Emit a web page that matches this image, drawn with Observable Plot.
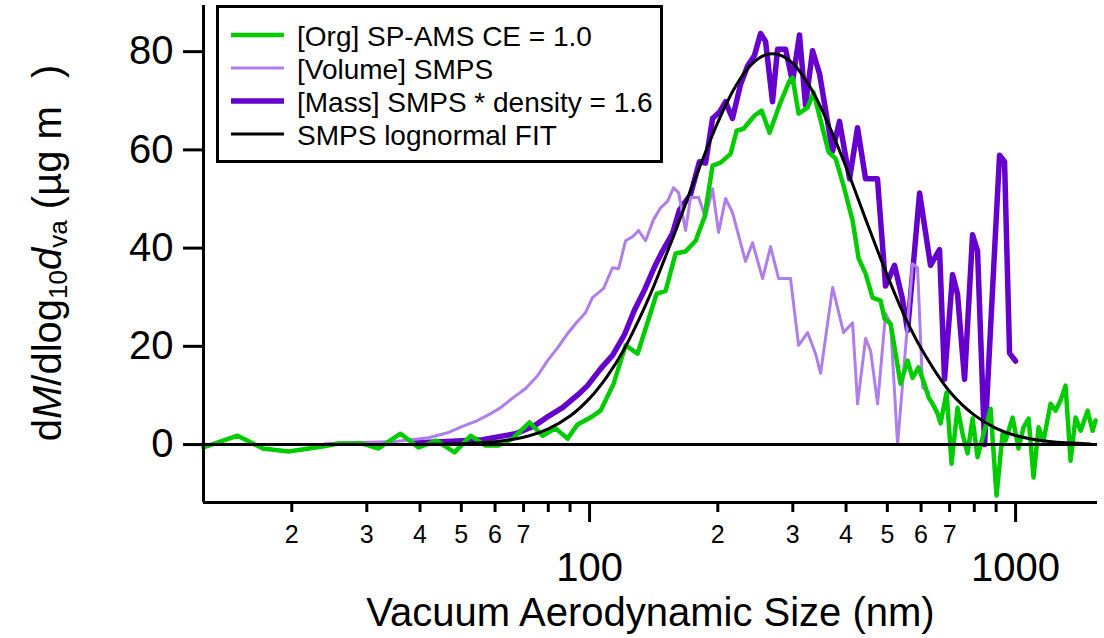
<!DOCTYPE html>
<html><head><meta charset="utf-8">
<script src="https://cdn.jsdelivr.net/npm/d3@7"></script>
<script src="https://cdn.jsdelivr.net/npm/@observablehq/plot@0.6"></script>
<style>body{margin:0;background:#fff;} #chart{width:1104px;height:638px;}</style>
</head><body><div id="chart"></div>
<script>
// ---- data ----
const orgSize = [12.41,14.92,17.08,19.65,23.61,25.75,29.32,31.96,36.00,39.68,43.73,48.20,52.56,57.00,61.15,65.97,72.31,77.57,83.22,88.78,93.72,100.5,106.1,113.9,121.5,129.6,143.7,150.8,159.2,168.0,177.4,186.2,194.4,203.0,214.3,221.4,229.9,244.0,253.4,264.6,279.3,294.8,299.6,309.5,324.9,335.6,348.6,363.9,378.0,394.7,414.4,428.1,444.6,461.6,482.0,492.6,508.9,537.0,557.8,573.1,592.0,614.8,624.9,638.6,656.0,666.7,688.7,707.5,730.7,750.8,771.3,792.5,814.2,841.0,859.4,873.5,902.3,932.0,947.2,984.0,1016,1044,1073,1102,1132,1163,1208,1241,1275,1310,1346,1383,1421,1476,1516,1541];
const orgMass = [-0.6,1.8,-0.8,-1.4,-0.4,0.2,0.2,-0.8,2.2,-0.6,0.8,-1.6,1.8,-0.2,-0.2,1.2,4.5,1.8,3.3,1.2,4.1,5.5,6.9,12.4,20.2,18.5,30.7,31.3,38.9,39.3,41.5,46.4,56.8,57.4,59.2,63.9,64.3,67.0,68.0,63.5,69.2,74.1,74.7,67.4,68.6,71.7,66.0,59.6,58.2,52.7,45.6,37.9,34.8,29.9,29.3,25.6,24.6,12.4,17.1,13.6,15.7,11.6,9.6,8.3,6.3,4.3,10.6,-3.9,7.5,2.2,-1.8,5.3,-2.6,2.2,4.9,7.3,-10.4,2.2,0.8,5.5,-0.8,3.5,5.3,-6.7,3.5,0.8,8.3,6.9,9.0,12.0,-3.3,5.5,2.8,6.9,2.8,4.9];

const volSize = [24.0,29.0,35.0,41.9,46.4,50.3,54.0,58.6,61.8,66.3,70.8,75.5,79.7,84.1,88.8,92.7,97.9,101.6,107.9,113.2,117.0,121.5,126.2,130.3,135.3,141.3,146.8,152.4,157.5,161.8,168.0,172.6,180.3,187.2,194.4,200.8,208.6,216.6,232.3,241.3,254.8,266.0,277.8,296.3,309.5,324.9,339.2,348.6,372.0,394.7,414.4,425.7,444.6,456.7,474.4,495.3,508.9,528.5,557.8,573.1,588.8,605.0,624.9];
const volValue = [0.2,0.4,0.6,1.4,2.4,3.7,4.7,6.3,7.5,9.6,11.4,14.0,17.1,19.7,22.6,24.6,26.9,29.9,31.8,36.0,35.8,41.5,42.3,43.6,41.5,45.8,48.2,49.5,52.3,51.3,43.6,50.3,50.3,46.2,52.1,43.2,50.1,47.2,37.3,41.1,33.8,40.3,33.8,33.8,20.2,22.8,18.5,14.5,32.0,22.8,24.8,8.3,21.6,19.1,8.3,26.7,24.6,0.0,24.6,36.8,36.0,11.6,10.6];

const massSize = [38.4,46.4,56.0,67.0,74.2,80.5,86.4,93.8,98.9,106.1,113.3,120.8,127.5,134.6,142.1,148.3,156.6,162.6,172.6,181.1,187.2,194.4,201.9,208.5,216.5,226.1,234.9,243.8,252.0,258.9,268.8,276.2,288.5,299.5,311.0,321.3,333.8,346.6,371.7,386.1,407.7,425.6,444.5,474.1,495.2,519.8,542.7,557.8,595.2,631.5,663.0,681.1,711.4,730.7,759.0,792.5,814.2,845.6,892.5,917.0,942.1,968.0,999.8];
const massValue = [0.3,0.6,1.0,2.2,3.8,5.9,7.5,10.1,12.0,15.4,18.2,22.4,27.4,31.5,36.2,39.4,43.0,47.8,50.9,57.6,57.3,66.4,67.7,69.8,66.4,73.3,77.1,79.2,83.7,82.1,69.8,80.5,80.5,73.9,83.4,69.1,80.2,75.5,59.7,65.8,54.1,64.5,54.1,54.1,32.3,36.5,29.6,23.2,51.2,36.5,39.7,13.3,34.6,30.6,13.3,42.7,39.4,0.0,39.4,58.9,57.6,18.6,17.0];

const fitSize = [20,30,40,50,60,70,80,90,100,110,120,130,140,150,160,170,180,200,220,240,260,280,300,330,360,400,450,500,550,600,700,800,900,1000,1200,1500];
const fitMass = [0,0,0.03,0.16,0.58,1.5,3.2,5.8,9.4,13.9,19.1,25.1,31.3,37.8,44.0,50.2,55.8,65.6,72.9,77.4,79.4,79.3,77.6,72.7,66.1,56.5,44.7,34.4,26.0,19.6,10.8,6.0,3.3,1.85,0.6,0.13];

const majorTicks = [100, 1000];
const minorTicks = [20,30,40,50,60,70,80,90,200,300,400,500,600,700,800,900];
const minorLabels = ["2","3","4","5","6","7","","","2","3","4","5","6","7","",""];
const yTicks = [0, 20, 40, 60, 80];

const seriesNames = ["[Org] SP-AMS CE = 1.0", "[Volume] SMPS", "[Mass] SMPS * density = 1.6", "SMPS lognormal FIT"];
const seriesColors = ["#00cc00", "#b07ee8", "#6600cc", "#000000"];
const seriesWidths = [4.5, 3, 5.5, 3];

const xTitle = "Vacuum Aerodynamic Size (nm)";
const xDomain = [12.41, 1557];
const yDomain = [-11.8, 89.4];

// ---- build ----
const zip = (xs, ys) => xs.map((x, i) => ({d: x, m: ys[i]}));
const org = zip(orgSize, orgMass), vol = zip(volSize, volValue), mass = zip(massSize, massValue), fit = zip(fitSize, fitMass);
const minorText = minorTicks.map((t, i) => ({t, label: minorLabels[i]})).filter(o => o.label !== "");
const FONT = "'Liberation Sans', Arial, Helvetica, sans-serif";

const svg = Plot.plot({
  width: 1104, height: 638,
  marginLeft: 203, marginRight: 7, marginTop: 5, marginBottom: 136,
  style: {fontFamily: FONT, background: "white", color: "black", overflow: "visible"},
  x: {type: "log", domain: xDomain, label: null},
  y: {domain: yDomain, label: null},
  marks: [
    Plot.line(mass, {x: "d", y: "m", stroke: seriesColors[2], strokeWidth: seriesWidths[2], strokeLinejoin: "round"}),
    Plot.line(vol, {x: "d", y: "m", stroke: seriesColors[1], strokeWidth: seriesWidths[1], strokeLinejoin: "round"}),
    Plot.line(org, {x: "d", y: "m", stroke: seriesColors[0], strokeWidth: seriesWidths[0], strokeLinejoin: "round"}),
    Plot.line(fit, {x: "d", y: "m", stroke: seriesColors[3], strokeWidth: seriesWidths[3], curve: "catmull-rom"}),
    Plot.ruleY([0], {stroke: "black", strokeWidth: 3}),
    Plot.ruleY([yDomain[0]], {stroke: "black", strokeWidth: 3}),
    Plot.ruleX([xDomain[0]], {stroke: "black", strokeWidth: 3}),
    Plot.axisY(yTicks, {tickSize: 20, tickPadding: 10, fontSize: 40, strokeWidth: 3, label: null}),
    Plot.axisX(majorTicks, {tickSize: 20, tickPadding: 30, fontSize: 40, strokeWidth: 3, tickFormat: d => String(d), label: null}),
    Plot.axisX(minorTicks, {tickSize: 10, tickPadding: 0, fontSize: 25, strokeWidth: 3, tickFormat: () => "", label: null}),
    Plot.text(minorText, {x: "t", text: "label", frameAnchor: "bottom", lineAnchor: "middle", dy: 32, fontSize: 25, fill: "black"}),
    Plot.text([xTitle], {frameAnchor: "bottom", lineAnchor: "middle", dy: 111, fontSize: 40, fill: "black"})
  ]
});
document.getElementById("chart").appendChild(svg);

// y-axis title with italics and subscripts
const yt = d3.select(svg).append("text")
  .attr("transform", "translate(61,253) rotate(-90)")
  .attr("text-anchor", "middle").attr("font-family", FONT).attr("font-size", 40).attr("fill", "black");
yt.append("tspan").text("d");
yt.append("tspan").attr("font-style", "italic").text("M");
yt.append("tspan").text("/dlog");
yt.append("tspan").attr("font-size", 26).attr("dy", 6).text("10");
yt.append("tspan").attr("font-style", "italic").attr("dy", -6).text("d");
yt.append("tspan").attr("font-size", 26).attr("dy", 6).text("va");
yt.append("tspan").attr("dy", -6).text(" (µg m");
yt.append("tspan").attr("dx", 28).text(")");

// legend
const lg = d3.select(svg).append("g").attr("font-family", FONT).attr("font-size", 28).attr("text-anchor", "start");
lg.append("rect").attr("x", 217.5).attr("y", 6.5).attr("width", 444).attr("height", 155)
  .attr("fill", "white").attr("stroke", "black").attr("stroke-width", 3);
seriesNames.forEach((name, i) => {
  const cy = 35 + i * 33;
  lg.append("line").attr("x1", 231).attr("x2", 284).attr("y1", cy).attr("y2", cy)
    .attr("stroke", seriesColors[i]).attr("stroke-width", seriesWidths[i]);
  lg.append("text").attr("x", 297).attr("y", cy + 11).attr("fill", "black").attr("text-anchor", "start").text(name);
});
</script>
</body></html>
